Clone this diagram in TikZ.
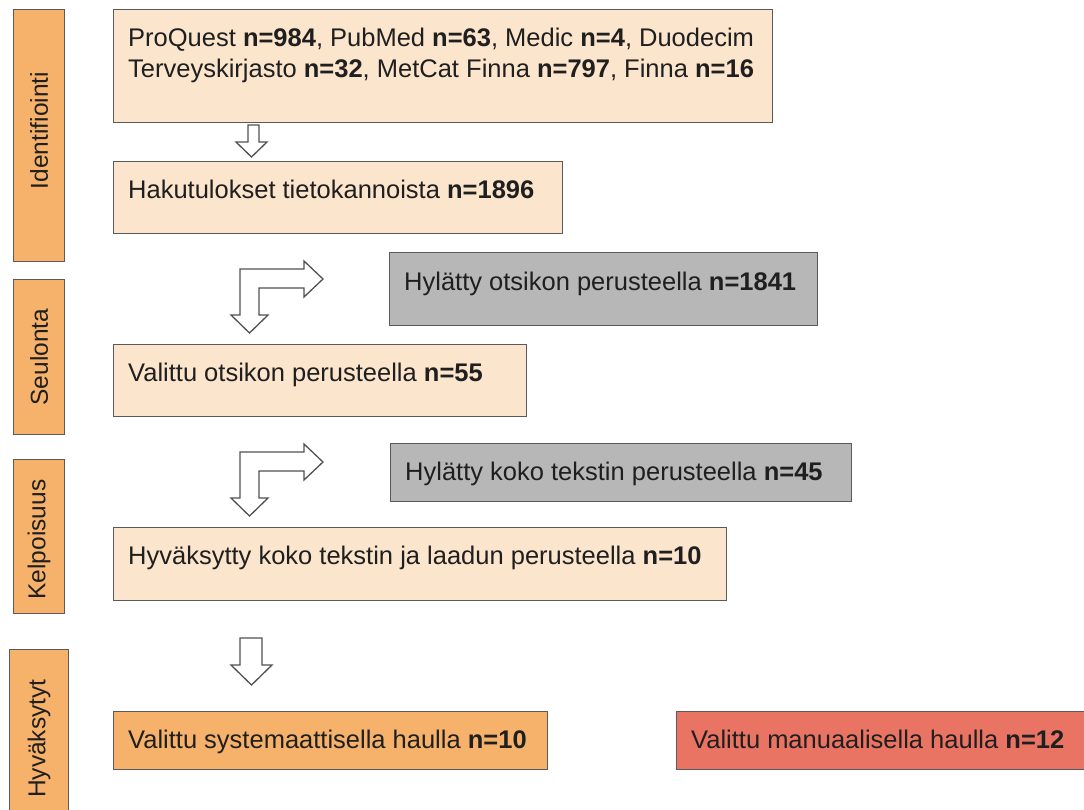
\documentclass[tikz,border=0pt]{standalone}
\usepackage{fontspec}
\setmainfont{Liberation Sans}
\definecolor{peach}{HTML}{FCE5CD}
\definecolor{orng}{HTML}{F6B26B}
\definecolor{greyf}{HTML}{B7B7B7}
\definecolor{redf}{HTML}{EA7463}
\definecolor{edge}{HTML}{5A5A5A}
\definecolor{txt}{HTML}{1F1F1F}
\begin{document}
\begin{tikzpicture}[x=1pt,y=-1pt,
  every node/.style={font=\fontsize{25.5}{31}\selectfont, text=txt},
  box/.style={draw=edge, line width=1.2pt, anchor=north west, inner sep=0pt},
  peachbox/.style={box, fill=peach},
  greybox/.style={box, fill=greyf},
  orangebox/.style={box, fill=orng},
  redbox/.style={box, fill=redf},
  lbl/.style={anchor=base west, inner sep=0pt, align=left},
  sidebar/.style={box, fill=orng},
  sidetext/.style={rotate=90, inner sep=0pt, font=\fontsize{24.5}{30}\selectfont},
  blockarrow/.style={draw=edge!90!black, line width=1.3pt, fill=white, line join=miter}]
\useasboundingbox (0,0) rectangle (1084,809);

% side bars
\node[sidebar, minimum width=51pt, minimum height=252pt] (sbI) at (13,9) {};
\node[sidetext] (sbIt) at ([shift={(0,-5)}]sbI.center) {Identifiointi};
\node[sidebar, minimum width=51pt, minimum height=155pt] (sbS) at (13,279) {};
\node[sidetext] (sbSt) at (sbS.center) {Seulonta};
\node[sidebar, minimum width=51pt, minimum height=154pt] (sbK) at (13,459) {};
\node[sidetext] (sbKt) at ([shift={(0,3)}]sbK.center) {Kelpoisuus};
\node[sidebar, minimum width=59pt, minimum height=178pt] (sbH) at (9,649) {};
\node[sidetext] (sbHt) at (sbH.center) {Hyväksytyt};

% boxes
\node[peachbox, minimum width=659pt, minimum height=113pt] (src) at (113,9) {};
\node[lbl] (srct) at ([shift={(15,68)}]src.north west) {ProQuest \textbf{n=984}, PubMed \textbf{n=63}, Medic \textbf{n=4}, Duodecim\\Terveyskirjasto \textbf{n=32}, MetCat Finna \textbf{n=797}, Finna \textbf{n=16}};

\node[peachbox, minimum width=449pt, minimum height=72pt] (haku) at (113,161) {};
\node[lbl] (hakut) at ([shift={(15,37)}]haku.north west) {Hakutulokset tietokannoista \textbf{n=1896}};

\node[greybox, minimum width=428pt, minimum height=73pt] (rej1) at (389,252) {};
\node[lbl] (rej1t) at ([shift={(15,38)}]rej1.north west) {Hylätty otsikon perusteella \textbf{n=1841}};

\node[peachbox, minimum width=413pt, minimum height=72pt] (val) at (113,344) {};
\node[lbl] (valt) at ([shift={(15,37)}]val.north west) {Valittu otsikon perusteella \textbf{n=55}};

\node[greybox, minimum width=461pt, minimum height=58pt] (rej2) at (390,443) {};
\node[lbl] (rej2t) at ([shift={(15,37)}]rej2.north west) {Hylätty koko tekstin perusteella \textbf{n=45}};

\node[peachbox, minimum width=613pt, minimum height=73pt] (hyv) at (113,527) {};
\node[lbl] (hyvt) at ([shift={(15,37)}]hyv.north west) {Hyväksytty koko tekstin ja laadun perusteella \textbf{n=10}};

\node[orangebox, minimum width=434pt, minimum height=58pt] (sys) at (113,711) {};
\node[lbl] (syst) at ([shift={(15,37)}]sys.north west) {Valittu systemaattisella haulla \textbf{n=10}};

\node[redbox, minimum width=412pt, minimum height=58pt] (man) at (676,711) {};
\node[lbl] (mant) at ([shift={(15,37)}]man.north west) {Valittu manuaalisella haulla \textbf{n=12}};

% block arrows
\draw[blockarrow] (248,125) -- (259,125) -- (259,142) -- (267,142) -- (251.5,157) -- (236,142) -- (248,142) -- cycle;

\draw[blockarrow] (240,269) -- (304,269) -- (304,261) -- (323,279) -- (304,297) -- (304,288) -- (259,288) -- (259,315) -- (268,315) -- (249.5,333) -- (231,315) -- (240,315) -- cycle;

\begin{scope}[shift={(0,183)}]
\draw[blockarrow] (240,269) -- (304,269) -- (304,261) -- (323,279) -- (304,297) -- (304,288) -- (259,288) -- (259,315) -- (268,315) -- (249.5,333) -- (231,315) -- (240,315) -- cycle;
\end{scope}

\draw[blockarrow] (240,638) -- (262,638) -- (262,665) -- (272,665) -- (251.5,685) -- (231,665) -- (240,665) -- cycle;
\end{tikzpicture}
\end{document}
